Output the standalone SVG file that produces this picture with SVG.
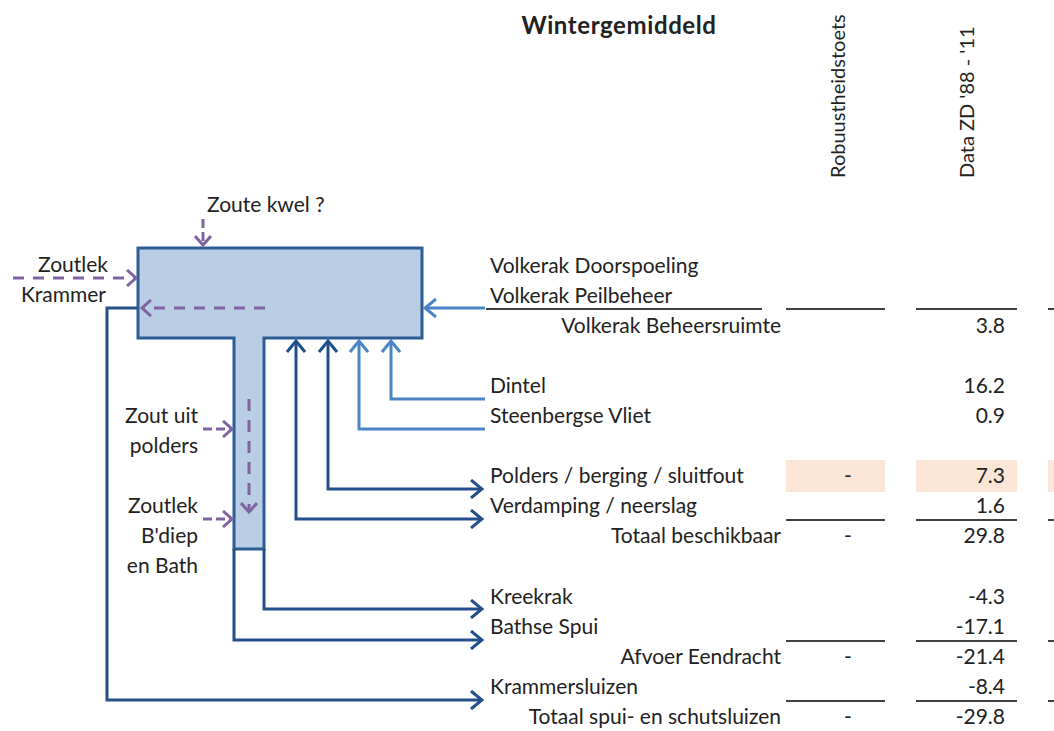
<svg xmlns="http://www.w3.org/2000/svg" width="1054" height="731" viewBox="0 0 1054 731">
<style>
text{font-family:Lato,"Open Sans","Liberation Sans",sans-serif;font-size:21px;fill:#222}
.r{text-anchor:end}
.m{text-anchor:middle}
.dk{fill:none;stroke:#23508a;stroke-width:3}
.lt{fill:none;stroke:#4b84c6;stroke-width:3}
.pu{fill:none;stroke:#8064a2;stroke-width:3}
.tl{stroke:#404040;stroke-width:2}
.pink{fill:#fbe5d6}
</style>
<defs>
<marker id="ad" viewBox="0 0 14 20" refX="12" refY="10" markerWidth="14" markerHeight="20" markerUnits="userSpaceOnUse" orient="auto-start-reverse"><path d="M1,1 L12,10 L1,19" fill="none" stroke="#23508a" stroke-width="3"/></marker>
<marker id="al" viewBox="0 0 14 20" refX="12" refY="10" markerWidth="14" markerHeight="20" markerUnits="userSpaceOnUse" orient="auto-start-reverse"><path d="M1,1 L12,10 L1,19" fill="none" stroke="#4b84c6" stroke-width="3"/></marker>
<marker id="ap" viewBox="0 0 12 18" refX="10" refY="9" markerWidth="12" markerHeight="18" markerUnits="userSpaceOnUse" orient="auto"><path d="M1,1 L10,9 L1,17" fill="none" stroke="#8064a2" stroke-width="3"/></marker>
</defs>
<rect width="1054" height="731" fill="#fff"/>

<g id="title"><text x="619" y="34" class="m" style="font-weight:bold;font-size:24px;letter-spacing:0.6px">Wintergemiddeld</text>
<text transform="translate(845,178) rotate(-90)" style="font-size:20px">Robuustheidstoets</text>
<text transform="translate(974,178) rotate(-90)" style="font-size:20px">Data ZD '88 - '11</text></g>

<g id="basin"><path d="M138,248 H422 V338 H264 V549 H234 V338 H138 Z" fill="#b9cde5" stroke="#2c5d93" stroke-width="3" stroke-linejoin="miter"/></g>

<g id="connectors">
<path class="lt" d="M485,308 H425" marker-end="url(#al)"/>
<path class="lt" d="M485,399 H391 V341" marker-end="url(#al)"/>
<path class="lt" d="M485,429 H359 V341" marker-end="url(#al)"/>
<path class="dk" d="M328,341 V489 H482" marker-start="url(#ad)" marker-end="url(#ad)"/>
<path class="dk" d="M296,341 V519 H482" marker-start="url(#ad)" marker-end="url(#ad)"/>
<path class="dk" d="M264,549 V609 H482" marker-end="url(#ad)"/>
<path class="dk" d="M234,549 V640 H482" marker-end="url(#ad)"/>
<path class="dk" d="M137,308 H107 V700 H482" marker-end="url(#ad)"/>
<path class="pu" d="M13,278 H136" stroke-dasharray="11 9" marker-end="url(#ap)"/>
<path class="pu" d="M265,308 H142" stroke-dasharray="11 9" marker-end="url(#ap)"/>
<path class="pu" d="M203,219 V245" stroke-dasharray="9 4" marker-end="url(#ap)"/>
<path class="pu" d="M249,399 V512" stroke-dasharray="12 9" marker-end="url(#ap)"/>
<path class="pu" d="M203,429 H232" stroke-dasharray="9 4" marker-end="url(#ap)"/>
<path class="pu" d="M203,519 H232" stroke-dasharray="9 4" marker-end="url(#ap)"/>
</g>

<g id="left-labels">
<text x="207" y="212">Zoute kwel ?</text>
<text x="108" y="272" class="r">Zoutlek</text>
<text x="106" y="302" class="r">Krammer</text>
<text x="198" y="423" class="r">Zout uit</text>
<text x="198" y="453" class="r">polders</text>
<text x="198" y="513" class="r">Zoutlek</text>
<text x="198" y="543" class="r">B'diep</text>
<text x="198" y="573" class="r">en Bath</text>
</g>

<g id="table">
<rect class="pink" x="786" y="460" width="99" height="32"/>
<rect class="pink" x="916" y="460" width="101" height="32"/>
<rect class="pink" x="1048" y="460" width="6" height="32"/>
<line class="tl" x1="486" y1="309" x2="762" y2="309"/>
<line class="tl" x1="786" y1="309" x2="885" y2="309"/>
<line class="tl" x1="916" y1="309" x2="1017" y2="309"/>
<line class="tl" x1="1048" y1="309" x2="1054" y2="309"/>
<line class="tl" x1="786" y1="520" x2="885" y2="520"/>
<line class="tl" x1="916" y1="520" x2="1017" y2="520"/>
<line class="tl" x1="1048" y1="520" x2="1054" y2="520"/>
<line class="tl" x1="786" y1="641" x2="885" y2="641"/>
<line class="tl" x1="916" y1="641" x2="1017" y2="641"/>
<line class="tl" x1="1048" y1="641" x2="1054" y2="641"/>
<line class="tl" x1="786" y1="701" x2="885" y2="701"/>
<line class="tl" x1="916" y1="701" x2="1017" y2="701"/>
<line class="tl" x1="1048" y1="701" x2="1054" y2="701"/>

<text x="490" y="273">Volkerak Doorspoeling</text>
<text x="490" y="303">Volkerak Peilbeheer</text>
<text x="781" y="333" class="r">Volkerak Beheersruimte</text>
<text x="1005" y="333" class="r">3.8</text>
<text x="490" y="393">Dintel</text>
<text x="1005" y="393" class="r">16.2</text>
<text x="490" y="423">Steenbergse Vliet</text>
<text x="1005" y="423" class="r">0.9</text>
<text x="490" y="483">Polders / berging / sluitfout</text>
<text x="848" y="483" class="m">-</text>
<text x="1005" y="483" class="r">7.3</text>
<text x="490" y="513">Verdamping / neerslag</text>
<text x="1005" y="513" class="r">1.6</text>
<text x="781" y="543" class="r">Totaal beschikbaar</text>
<text x="848" y="543" class="m">-</text>
<text x="1005" y="543" class="r">29.8</text>
<text x="490" y="604">Kreekrak</text>
<text x="1005" y="604" class="r">-4.3</text>
<text x="490" y="634">Bathse Spui</text>
<text x="1005" y="634" class="r">-17.1</text>
<text x="781" y="664" class="r">Afvoer Eendracht</text>
<text x="848" y="664" class="m">-</text>
<text x="1005" y="664" class="r">-21.4</text>
<text x="490" y="694">Krammersluizen</text>
<text x="1005" y="694" class="r">-8.4</text>
<text x="781" y="724" class="r">Totaal spui- en schutsluizen</text>
<text x="848" y="724" class="m">-</text>
<text x="1005" y="724" class="r">-29.8</text>
</g>
</svg>
